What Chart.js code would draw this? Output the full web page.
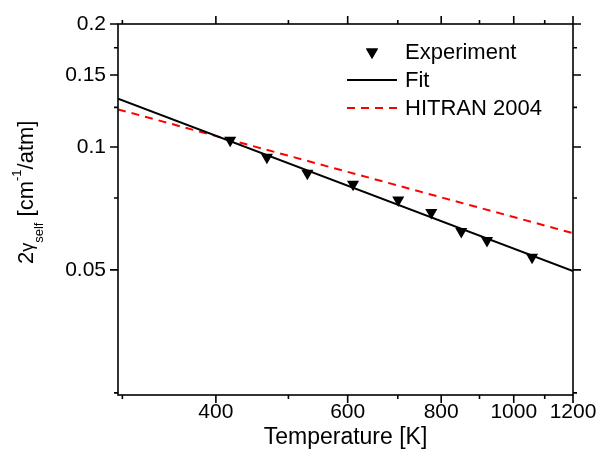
<!DOCTYPE html>
<html>
<head>
<meta charset="utf-8">
<script src="https://cdn.jsdelivr.net/npm/chart.js@4/dist/chart.umd.min.js"></script>
<style>
  html, body { margin: 0; padding: 0; background: #fff; }
  #wrap { width: 597px; height: 459px; }
</style>
</head>
<body>
<div id="wrap"><canvas id="gammaChart" width="597" height="459"></canvas></div>
<script>
// measured broadening coefficients
const temperatures = [418, 468, 530, 610, 701, 776, 851, 921, 1058];
const gammaExperiment = [0.1039, 0.0944, 0.0862, 0.0810, 0.0742, 0.0691, 0.0621, 0.0590, 0.0537];

// fit and HITRAN lines, read at the axis ends
const lineTemps = [296, 1200];
const gammaFit = [0.1313, 0.0497];
const gammaHitran = [0.1236, 0.0615];

const xTickValues = [300, 400, 500, 600, 700, 800, 900, 1000, 1100, 1200];
const xTickLabels = [400, 600, 800, 1000, 1200];
const yTickValues = [0.025, 0.05, 0.075, 0.1, 0.125, 0.15, 0.175, 0.2];
const yTickLabels = [0.05, 0.1, 0.15, 0.2];

const FONT = '"Liberation Sans", Arial, Helvetica, sans-serif';

function toPoints(xs, ys) {
  return xs.map((x, i) => ({ x, y: ys[i] }));
}

// box frame with outward tick marks on all four sides
const frameTicks = {
  id: 'frameTicks',
  afterDraw(chart) {
    const { ctx, chartArea: a, scales } = chart;
    ctx.save();
    ctx.strokeStyle = '#000';
    ctx.lineWidth = 1.6;
    ctx.strokeRect(a.left, a.top, a.right - a.left, a.bottom - a.top);
    ctx.beginPath();
    xTickValues.forEach((v) => {
      const px = scales.x.getPixelForValue(v);
      const len = xTickLabels.includes(v) ? 8 : 4;
      ctx.moveTo(px, a.bottom); ctx.lineTo(px, a.bottom + len);
      ctx.moveTo(px, a.top); ctx.lineTo(px, a.top - len);
    });
    yTickValues.forEach((v) => {
      const py = scales.y.getPixelForValue(v);
      const len = yTickLabels.includes(v) ? 8 : 4;
      ctx.moveTo(a.left, py); ctx.lineTo(a.left - len, py);
      ctx.moveTo(a.right, py); ctx.lineTo(a.right + len, py);
    });
    ctx.stroke();
    ctx.restore();
  }
};

// y title with sub- and superscript
const yTitle = {
  id: 'yTitle',
  afterDraw(chart) {
    const { ctx } = chart;
    const parts = [
      { t: '2', size: 22, dy: 0 },
      { t: 'γ', size: 18, dy: 0 },
      { t: 'self', size: 13, dy: 9.5 },
      { t: ' [cm', size: 22, dy: 0 },
      { t: '-1', size: 13, dy: -12 },
      { t: '/atm]', size: 22, dy: 0 }
    ];
    ctx.save();
    ctx.translate(33, 264);
    ctx.rotate(-Math.PI / 2);
    ctx.fillStyle = '#000';
    ctx.textBaseline = 'alphabetic';
    ctx.textAlign = 'left';
    let x = 0;
    parts.forEach((p) => {
      ctx.font = p.size + 'px ' + FONT;
      ctx.fillText(p.t, x, p.dy);
      x += ctx.measureText(p.t).width;
    });
    ctx.restore();
  }
};

// legend inside the plot
const innerLegend = {
  id: 'innerLegend',
  afterDraw(chart) {
    const { ctx } = chart;
    const rows = [52, 80, 108];
    ctx.save();
    ctx.font = '22px ' + FONT;
    ctx.textBaseline = 'middle';
    ctx.fillStyle = '#000';
    chart.data.datasets.forEach((ds, i) => {
      const y = rows[i];
      if (ds.showLine) {
        ctx.beginPath();
        ctx.strokeStyle = ds.borderColor;
        ctx.lineWidth = ds.borderWidth;
        ctx.setLineDash(ds.borderDash || []);
        ctx.moveTo(347, y);
        ctx.lineTo(397, y);
        ctx.stroke();
        ctx.setLineDash([]);
      } else {
        const r = ds.pointRadius;
        Chart.helpers.drawPoint(ctx, { pointStyle: 'triangle', rotation: 180, radius: r, borderWidth: 0 }, 372, y);
        ctx.fillStyle = ds.backgroundColor;
        ctx.fill();
      }
      ctx.fillStyle = '#000';
      ctx.fillText(ds.label, 405, y + 1);
    });
    ctx.restore();
  }
};

new Chart(document.getElementById('gammaChart'), {
  type: 'scatter',
  data: {
    datasets: [
      {
        label: 'Experiment',
        data: toPoints(temperatures, gammaExperiment),
        showLine: false,
        pointStyle: 'triangle',
        rotation: 180,
        pointRadius: 7,
        pointHoverRadius: 7,
        backgroundColor: '#000',
        borderColor: '#000',
        pointBorderWidth: 0
      },
      {
        label: 'Fit',
        data: toPoints(lineTemps, gammaFit),
        showLine: true,
        borderColor: '#000',
        borderWidth: 2,
        pointRadius: 0
      },
      {
        label: 'HITRAN 2004',
        data: toPoints(lineTemps, gammaHitran),
        showLine: true,
        borderColor: '#ff0000',
        borderWidth: 2,
        borderDash: [8, 6],
        pointRadius: 0
      }
    ]
  },
  options: {
    responsive: false,
    animation: false,
    devicePixelRatio: 1,
    layout: { padding: { top: 24, right: 24, left: 0, bottom: 0 } },
    plugins: {
      legend: { display: false },
      tooltip: { enabled: false }
    },
    scales: {
      x: {
        type: 'logarithmic',
        min: 296,
        max: 1200,
        afterBuildTicks: (scale) => { scale.ticks = xTickValues.map((v) => ({ value: v })); },
        afterFit: (scale) => {
          scale.height = 64;
          scale.paddingLeft = 0;
          scale.paddingRight = 0;
        },
        grid: { display: false, drawTicks: false },
        border: { display: false },
        ticks: {
          autoSkip: false,
          maxRotation: 0,
          padding: 5,
          color: '#000',
          font: { family: FONT, size: 21 },
          callback: (v) => (xTickLabels.includes(v) ? String(v) : '')
        },
        title: {
          display: true,
          text: 'Temperature [K]',
          color: '#000',
          font: { family: FONT, size: 23 },
          padding: { top: 0, bottom: 8 }
        }
      },
      y: {
        type: 'logarithmic',
        min: 0.0247,
        max: 0.2,
        afterBuildTicks: (scale) => { scale.ticks = yTickValues.map((v) => ({ value: v })); },
        afterFit: (scale) => {
          scale.width = 118;
          scale.paddingTop = 0;
          scale.paddingBottom = 0;
        },
        grid: { display: false, drawTicks: false },
        border: { display: false },
        ticks: {
          autoSkip: false,
          padding: 12,
          color: '#000',
          font: { family: FONT, size: 21 },
          callback: (v) => (yTickLabels.includes(v) ? String(v) : '')
        }
      }
    }
  },
  plugins: [frameTicks, yTitle, innerLegend]
});
</script>
</body>
</html>
